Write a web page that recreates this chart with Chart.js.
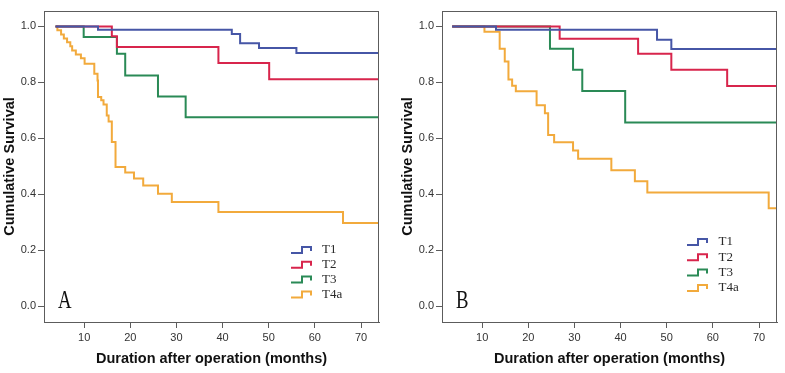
<!DOCTYPE html>
<html>
<head>
<meta charset="utf-8">
<script src="https://cdn.jsdelivr.net/npm/chart.js@4.4.1/dist/chart.umd.min.js"></script>
<style>
  html, body { margin: 0; padding: 0; background: #fff; }
  #wrap { position: relative; width: 785px; height: 373px; }
  canvas { position: absolute; top: 0; }
  #chartA { left: 0; }
  #chartB { left: 392px; }
</style>
</head>
<body>
<div id="wrap">
  <canvas id="chartA" width="392" height="373"></canvas>
  <canvas id="chartB" width="393" height="373"></canvas>
</div>
<script>
// Series and axis ticks
const seriesLabels = ['T1', 'T2', 'T3', 'T4a'];
const seriesColors = ['#4656a6', '#d8254c', '#2a8a56', '#f2aa3c'];
const xTicks = [10, 20, 30, 40, 50, 60, 70];
const yTicks = [0, 0.2, 0.4, 0.6, 0.8, 1.0];

// Panel A - event times (months) and survival after each step
const aT1Time = [3.8, 13.0, 42.0, 43.8, 47.9, 56.0, 74];
const aT1Surv = [1.0, 0.988, 0.973, 0.940, 0.923, 0.905, 0.905];
const aT2Time = [3.8, 16.0, 17.1, 39.1, 50.1, 74];
const aT2Surv = [1.0, 0.965, 0.926, 0.869, 0.811, 0.811];
const aT3Time = [3.8, 9.9, 17.1, 18.9, 26.0, 32.0, 74];
const aT3Surv = [1.0, 0.962, 0.902, 0.825, 0.750, 0.675, 0.675];
const aT4aTime = [3.8, 4.2, 5.0, 5.6, 6.3, 7.0, 7.4, 8.2, 9.3, 10.1, 12.2, 12.9, 13.0, 13.7, 14.2,
                  14.9, 15.3, 16.0, 16.8, 18.9, 20.8, 22.8, 26.0, 29.0, 39.1, 66.1, 74];
const aT4aSurv = [1.0, 0.986, 0.971, 0.957, 0.943, 0.929, 0.914, 0.900, 0.886, 0.867, 0.831, 0.807, 0.748, 0.736, 0.721,
                  0.682, 0.660, 0.587, 0.498, 0.478, 0.457, 0.432, 0.402, 0.373, 0.337, 0.298, 0.298];

// Panel B
const bT1Time = [3.5, 13.0, 47.9, 51.0, 74];
const bT1Surv = [1.0, 0.988, 0.952, 0.919, 0.919];
const bT2Time = [3.5, 26.8, 43.8, 51.0, 63.1, 74];
const bT2Surv = [1.0, 0.956, 0.902, 0.845, 0.787, 0.787];
const bT3Time = [3.5, 24.7, 29.7, 31.7, 41.0, 74];
const bT3Surv = [1.0, 0.920, 0.845, 0.769, 0.657, 0.657];
const bT4aTime = [3.5, 10.5, 13.8, 14.9, 15.7, 16.5, 17.3, 21.8, 23.6, 24.3, 25.6, 29.7, 30.8, 38.0, 43.1, 45.8, 72.1, 74];
const bT4aSurv = [1.0, 0.981, 0.920, 0.875, 0.810, 0.788, 0.768, 0.718, 0.690, 0.612, 0.586, 0.557, 0.527, 0.486, 0.447, 0.407, 0.350, 0.350];

const axisColor = '#5c5c5c';
const sansFont = "'Liberation Sans', Arial, sans-serif";
const serifFont = "'Liberation Serif', 'Times New Roman', serif";

// draws the box around the plot, the step legend and the panel letter
const panelDecor = {
    id: 'panelDecor',
    afterDraw(chart, args, opts) {
        const { ctx, chartArea: area } = chart;
        ctx.save();
        ctx.strokeStyle = axisColor;
        ctx.lineWidth = 1;
        ctx.strokeRect(area.left + 0.5, area.top + 0.5, area.right - area.left - 1, area.bottom - area.top);

        // legend
        ctx.font = '13px ' + serifFont;
        ctx.textBaseline = 'middle';
        chart.data.datasets.forEach((ds, i) => {
            const x0 = area.right - opts.glyphOffset;
            const y = area.bottom - opts.legendOffset + i * opts.spacing;
            ctx.strokeStyle = ds.borderColor;
            ctx.lineWidth = 2;
            ctx.beginPath();
            ctx.moveTo(x0, y + 3);
            ctx.lineTo(x0 + 11, y + 3);
            ctx.lineTo(x0 + 11, y - 3);
            ctx.lineTo(x0 + 20, y - 3);
            ctx.lineTo(x0 + 20, y + 1);
            ctx.stroke();
            ctx.fillStyle = '#2a2a2a';
            ctx.fillText(ds.label, area.right - opts.textOffset, y);
        });

        // panel letter
        ctx.fillStyle = '#111';
        ctx.font = '25px ' + serifFont;
        ctx.textBaseline = 'alphabetic';
        ctx.translate(area.left + 14, area.bottom - 14);
        ctx.scale(0.75, 1);
        ctx.fillText(opts.letter, 0, 0);
        ctx.restore();
    }
};

function buildDatasets(times, survs) {
    return seriesLabels.map((label, i) => ({
        label: label,
        data: times[i].map((t, j) => ({ x: t, y: survs[i][j] })),
        borderColor: seriesColors[i],
        backgroundColor: seriesColors[i],
        borderWidth: 2,
        stepped: 'before',
        pointRadius: 0,
        fill: false
    }));
}

function initializePanel(canvasId, times, survs, layout) {
    const ctx = document.getElementById(canvasId);
    if (!ctx) return;

    new Chart(ctx.getContext('2d'), {
        type: 'line',
        data: { datasets: buildDatasets(times, survs) },
        options: {
            responsive: false,
            animation: false,
            layout: { padding: { left: 0, right: layout.padRight, top: 11, bottom: 0 } },
            plugins: {
                legend: { display: false },
                tooltip: { enabled: false },
                panelDecor: layout.decor
            },
            scales: {
                x: {
                    type: 'linear',
                    min: 1.3,
                    max: 73.9,
                    afterBuildTicks: s => { s.ticks = xTicks.map(v => ({ value: v })); },
                    afterFit: s => { s.height = 51; },
                    grid: { drawOnChartArea: false, drawTicks: true, tickLength: 6, color: axisColor },
                    border: { color: axisColor },
                    ticks: { padding: 3, maxRotation: 0, color: '#333', font: { family: sansFont, size: 11 } },
                    title: {
                        display: true,
                        text: 'Duration after operation (months)',
                        color: '#111',
                        font: { family: sansFont, size: 14.5, weight: 'bold' },
                        padding: { top: 0, bottom: 5 }
                    }
                },
                y: {
                    min: -0.056,
                    max: 1.055,
                    afterBuildTicks: s => { s.ticks = yTicks.map(v => ({ value: v })); },
                    afterFit: s => { s.width = layout.yWidth; },
                    grid: { drawOnChartArea: false, drawTicks: true, tickLength: 6, color: axisColor },
                    border: { color: axisColor },
                    ticks: {
                        padding: 2,
                        color: '#333',
                        font: { family: sansFont, size: 11 },
                        callback: v => v.toFixed(1)
                    },
                    title: {
                        display: true,
                        text: 'Cumulative Survival',
                        color: '#111',
                        font: { family: sansFont, size: 14.5, weight: 'bold' },
                        padding: { top: layout.titlePad, bottom: 0 }
                    }
                }
            }
        },
        plugins: [panelDecor]
    });
}

document.addEventListener('DOMContentLoaded', function() {
    initializePanel('chartA',
        [aT1Time, aT2Time, aT3Time, aT4aTime],
        [aT1Surv, aT2Surv, aT3Surv, aT4aSurv],
        { padRight: 13, yWidth: 44, titlePad: 1.3,
          decor: { letter: 'A', glyphOffset: 88, textOffset: 57, legendOffset: 72, spacing: 14.8 } });

    initializePanel('chartB',
        [bT1Time, bT2Time, bT3Time, bT4aTime],
        [bT1Surv, bT2Surv, bT3Surv, bT4aSurv],
        { padRight: 8, yWidth: 50, titlePad: 6.8,
          decor: { letter: 'B', glyphOffset: 90, textOffset: 58.5, legendOffset: 80, spacing: 15.3 } });
});
</script>
</body>
</html>
